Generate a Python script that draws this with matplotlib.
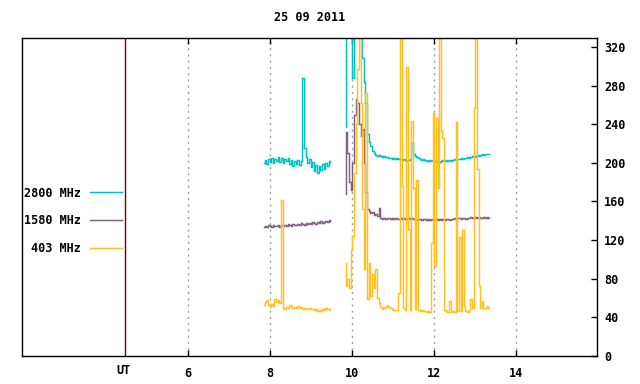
import numpy as np
import matplotlib
matplotlib.use("Agg")
import matplotlib.pyplot as plt
import matplotlib.transforms as mtransforms

# ---------------- data ----------------
title = "25 09 2011"
dt = 0.04                 # sampling step (hours)
seg1_start = 7.85         # UT hours
seg2_start = 9.83

labels = ["2800 MHz", "1580 MHz", "403 MHz"]
colors = ["#00c0c0", "#806080", "#ffc020"]

f2800_seg1 = [200, 203, 199, 204, 201, 205, 200, 204, 202, 206,
              201, 205, 200, 204, 202, 205, 199, 203, 197, 202,
              199, 203, 198, 202, 288, 215, 206, 200, 204, 196,
              201, 192, 198, 190, 197, 193, 199, 194, 200, 197,
              202, 201]
f2800_seg2 = [237, 350, 360, 380, 340, 288, 360, 400, 420, 400,
              380, 309, 284, 262, 230, 222, 217, 212, 210, 208,
              207, 208, 207, 206, 207, 206, 206, 205, 205, 204,
              205, 204, 205, 204, 204, 203, 204, 203, 202, 203,
              204, 221, 209, 207, 206, 205, 204, 203, 204, 203,
              202, 203, 202, 203, 202, 202, 201, 202, 201, 202,
              203, 202, 203, 202, 203, 202, 203, 204, 203, 204,
              204, 205, 204, 205, 205, 206, 205, 206, 207, 206,
              207, 208, 207, 208, 209, 208, 209, 209, 209]

f1580_seg1 = [134, 135, 134, 136, 135, 134, 136, 135, 135, 136,
              134, 136, 135, 136, 135, 137, 136, 135, 137, 136,
              136, 137, 136, 138, 137, 136, 138, 137, 138, 137,
              139, 138, 137, 139, 138, 140, 138, 139, 140, 139,
              141, 140]
f1580_seg2 = [168, 232, 210, 180, 172, 200, 250, 266, 262, 240,
              228, 235, 200, 170, 152, 150, 148, 149, 146, 147,
              145, 153, 143, 142, 143, 142, 143, 143, 142, 143,
              142, 143, 142, 142, 143, 142, 143, 142, 142, 143,
              142, 143, 142, 142, 141, 142, 142, 141, 142, 142,
              141, 142, 141, 142, 141, 141, 142, 141, 142, 141,
              142, 141, 142, 142, 141, 142, 142, 143, 142, 143,
              143, 142, 143, 143, 142, 143, 143, 144, 143, 143,
              144, 143, 144, 143, 143, 144, 143, 144, 143]

f403_seg1 = [53, 56, 58, 53, 51, 54, 52, 59, 56, 58,
             55, 162, 50, 49, 51, 50, 53, 52, 50, 51,
             50, 52, 50, 51, 49, 50, 49, 49, 50, 49,
             49, 48, 49, 47, 48, 47, 49, 48, 50, 49,
             49, 48]
f403_seg2 = [96, 72, 80, 70, 110, 124, 190, 240, 297, 400,
             262, 152, 90, 272, 59, 96, 62, 85, 70, 90,
             60, 55, 51, 49, 50, 51, 53, 51, 50, 49,
             48, 48, 48, 65, 400, 176, 50, 48, 299, 131,
             48, 243, 174, 49, 182, 48, 47, 48, 47, 47,
             46, 47, 46, 117, 252, 93, 246, 174, 400, 233,
             226, 48, 47, 46, 57, 46, 47, 46, 242, 47,
             123, 47, 130, 52, 47, 46, 48, 59, 50, 257,
             400, 194, 72, 50, 57, 50, 50, 52, 50]

x_ticks = [6, 8, 10, 12, 14]
y_ticks = [0, 40, 80, 120, 160, 200, 240, 280, 320]
ut_pos = 4.46

# ---------------- plot ----------------
FONT = "DejaVu Sans Mono"
FS = 8.5
plt.rcParams["font.family"] = FONT
plt.rcParams["font.weight"] = "bold"

fig = plt.figure(figsize=(6.4, 3.84), dpi=100)
ax = fig.add_axes([22 / 640, 1 - 356 / 384, (597 - 22) / 640, (356 - 38) / 384])

def series(s1, s2):
    t1 = seg1_start + dt * np.arange(len(s1))
    t2 = seg2_start + dt * np.arange(len(s2))
    t = np.concatenate([t1, [np.nan], t2])
    v = np.concatenate([np.asarray(s1, float), [np.nan], np.asarray(s2, float)])
    return t, v

data = [(f2800_seg1, f2800_seg2), (f1580_seg1, f1580_seg2), (f403_seg1, f403_seg2)]
for (s1, s2), lab, col in zip(data, labels, colors):
    t, v = series(s1, s2)
    ax.plot(t, v, color=col, lw=1.05, label=lab, drawstyle="steps-mid",
            solid_joinstyle="miter")

ax.set_xlim(1.95, 15.98)
ax.set_ylim(0, 329.3)

for xt in x_ticks:
    ax.axvline(xt, color="#a0a0a0", lw=1.0, ls=(0, (1.5, 3)), zorder=0)
ax.axvline(ut_pos, color="#800000", lw=1.0, zorder=0)

ax.set_xticks(x_ticks)
ax.set_xticklabels([str(x) for x in x_ticks])
ax.tick_params(axis="x", direction="in", length=4, width=1, top=True, bottom=True,
               labelsize=FS, pad=8)
ax.yaxis.tick_right()
ax.set_yticks(y_ticks)
ax.set_yticklabels([str(y) for y in y_ticks])
ax.tick_params(axis="y", direction="in", length=4, width=1, left=False, right=True,
               labelsize=FS, pad=5)
for lbl in ax.get_xticklabels() + ax.get_yticklabels():
    lbl.set_fontweight("bold")

for sp in ax.spines.values():
    sp.set_linewidth(1.0)
    sp.set_color("black")

trans = mtransforms.blended_transform_factory(ax.transData, ax.transAxes)
ax.text(ut_pos - 0.04, -0.025, "UT", transform=trans, ha="center", va="top",
        fontsize=FS, fontweight="bold")

ax.set_title(title, fontsize=FS, fontweight="bold", pad=12)

leg = ax.legend(loc="upper left", bbox_to_anchor=(0.004, 0.533), frameon=False,
                markerfirst=False, fontsize=FS, handlelength=2.75,
                handletextpad=0.7, labelspacing=1.25, borderaxespad=0.0,
                borderpad=0.0, prop={"family": FONT, "weight": "bold", "size": FS})

fig.savefig("out.png", dpi=100)
